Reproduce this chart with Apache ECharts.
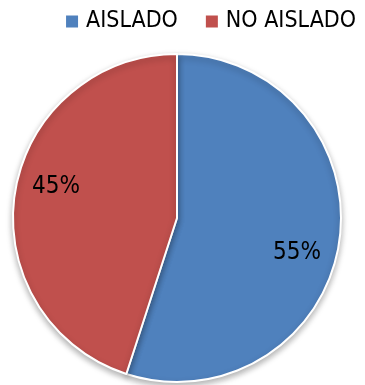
<!DOCTYPE html>
<html>
<head>
<meta charset="utf-8">
<script src="https://cdn.jsdelivr.net/npm/echarts@6/dist/echarts.min.js"></script>
<style>
  html, body { margin: 0; padding: 0; background: #fff; }
  #chart { width: 365px; height: 385px; }
</style>
</head>
<body>
<div id="chart"></div>
<script>
// Share of cases by isolation status
const categories = ['AISLADO', 'NO AISLADO'];
const values = [55, 45];
const colors = ['#4F81BD', '#C0504D'];

// Nudges that move each percentage label out from the sector's inner midpoint
const labelShift = [[36, 21], [-37, -18]];

const FONT = '"DejaVu Sans Condensed", "DejaVu Sans", sans-serif';

const chart = echarts.init(document.getElementById('chart'), null, { renderer: 'canvas' });

chart.setOption({
  animation: false,
  textStyle: { fontFamily: FONT },
  legend: {
    data: categories,
    top: 5,
    right: 4,
    itemWidth: 12,
    itemHeight: 12,
    itemGap: 28,
    icon: 'rect',
    itemStyle: { borderWidth: 0, shadowBlur: 0, shadowOffsetY: 0 },
    textStyle: { fontSize: 23, color: '#000', fontFamily: FONT, padding: [0, 0, 0, 3] }
  },
  series: [{
    type: 'pie',
    center: [177, 218],
    radius: 164,
    startAngle: 90,
    clockwise: true,
    data: categories.map((name, i) => ({
      name: name,
      value: values[i],
      itemStyle: { color: colors[i] }
    })),
    itemStyle: {
      borderColor: '#fff',
      borderWidth: 2,
      shadowBlur: 6,
      shadowOffsetY: 3,
      shadowColor: 'rgba(0,0,0,0.3)'
    },
    label: {
      show: true,
      position: 'inside',
      formatter: p => p.value + '%',
      fontSize: 24,
      color: '#000',
      fontFamily: FONT
    },
    labelLayout: p => ({ dx: labelShift[p.dataIndex][0], dy: labelShift[p.dataIndex][1] }),
    emphasis: { disabled: true }
  }]
});
</script>
</body>
</html>
